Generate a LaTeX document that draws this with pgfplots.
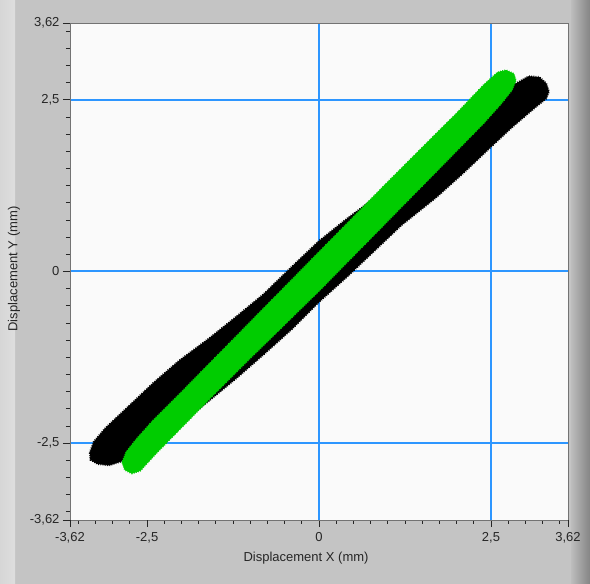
\documentclass[border=0pt]{standalone}
\usepackage{pgfplots}
\usepackage{pgfplotstable}
\pgfplotsset{compat=1.18}
\usepackage{fontspec}
\setmainfont{Liberation Sans}
\definecolor{panel}{RGB}{196,196,196}
\definecolor{gridblue}{RGB}{45,150,255}
\definecolor{trace}{RGB}{0,204,0}
\definecolor{plotbg}{RGB}{250,250,250}

% outline of the black band (upper edge left to right, then lower edge back)
\pgfplotstableread{
x y
-3.33 -2.64
-3.27 -2.48
-3.10 -2.28
-2.76 -1.96
-2.40 -1.62
-2.03 -1.30
-1.60 -0.98
-1.20 -0.66
-0.80 -0.33
-0.40 0.06
0 0.44
0.40 0.76
0.80 1.06
1.20 1.36
1.60 1.68
2.00 2.03
2.40 2.38
2.80 2.70
3.05 2.84
3.20 2.83
3.30 2.74
3.34 2.62
3.30 2.52
3.15 2.40
2.80 2.10
2.50 1.82
2.10 1.44
1.70 1.08
1.20 0.68
0.80 0.30
0.40 -0.08
0 -0.44
-0.40 -0.84
-0.80 -1.20
-1.20 -1.55
-1.60 -1.88
-2.00 -2.20
-2.40 -2.50
-2.80 -2.74
-3.05 -2.82
-3.22 -2.80
-3.32 -2.74
-3.33 -2.64
}\blackband

% outline of the green band
\pgfplotstableread{
x y
-2.86 -2.78
-2.82 -2.89
-2.72 -2.94
-2.60 -2.90
-2.40 -2.68
-2.00 -2.27
-1.50 -1.76
-1.00 -1.26
-0.50 -0.77
0 -0.28
0.50 0.23
1.00 0.74
1.50 1.25
2.00 1.76
2.40 2.17
2.65 2.45
2.80 2.64
2.86 2.78
2.83 2.88
2.72 2.93
2.60 2.90
2.40 2.72
2.00 2.30
1.50 1.80
1.00 1.30
0.50 0.79
0 0.28
-0.50 -0.23
-1.00 -0.74
-1.50 -1.25
-2.00 -1.76
-2.40 -2.16
-2.65 -2.44
-2.80 -2.63
-2.86 -2.78
}\greenband

\begin{document}
\begin{tikzpicture}[x=1pt,y=1pt]
% grey panel around the graph
\fill[panel] (0,0) rectangle (590,584);
\shade[left color=black!16, right color=black!13] (0,0) rectangle (15,584);
\shade[left color=black!26, right color=black!48] (571,0) rectangle (590,584);

\begin{axis}[
    at={(70pt,64pt)}, anchor=south west,
    scale only axis, width=498pt, height=497pt,
    xmin=-3.62, xmax=3.62, ymin=-3.62, ymax=3.62,
    xtick={0,2.5}, ytick={-2.5,0,2.5},
    xticklabels={0,{2,5}}, yticklabels={{-2,5},0,{2,5}},
    extra x ticks={-3.62,-2.5,3.62}, extra x tick labels={{-3,62},{-2,5},{3,62}},
    extra y ticks={-3.62,3.62}, extra y tick labels={{-3,62},{3,62}},
    extra tick style={grid=none},
    minor xtick={-3.5,-3.25,...,3.5}, minor ytick={-3.5,-3.25,...,3.5},
    tick pos=left, tick align=outside,
    major tick length=7pt, minor tick length=4pt,
    tick style={black!85, line width=0.9pt},
    xmajorgrids=true, ymajorgrids=true,
    x grid style={gridblue, line width=2pt},
    y grid style={gridblue, line width=2pt},
    axis line style={draw=black!55, line width=0.8pt},
    axis background/.style={fill=plotbg},
    ticklabel style={font=\fontsize{13}{15}\selectfont, text=black!85},
    xticklabel style={yshift=-2pt},
    label style={font=\fontsize{13}{15}\selectfont, text=black!85},
    xlabel={Displacement X (mm)},
    ylabel={Displacement Y (mm)},
    x label style={at={(axis description cs:0.474,-0.0765)}, anchor=center},
    y label style={at={(axis description cs:-0.1125,0.505)}, anchor=center},
]

% black trace with a speckled fringe
\addplot[fill=black, draw=black, line width=0.6pt] table {\blackband};
\addplot[draw=black, line width=2.4pt, dash pattern=on 0.8pt off 1.4pt, forget plot] table {\blackband};

% green trace with a speckled fringe
\addplot[fill=trace, draw=trace, line width=0.6pt] table {\greenband};
\addplot[draw=trace, line width=2pt, dash pattern=on 0.8pt off 1.4pt, forget plot] table {\greenband};
\end{axis}
\pgfresetboundingbox
\useasboundingbox (0,0) rectangle (590,584);
\end{tikzpicture}
\end{document}
